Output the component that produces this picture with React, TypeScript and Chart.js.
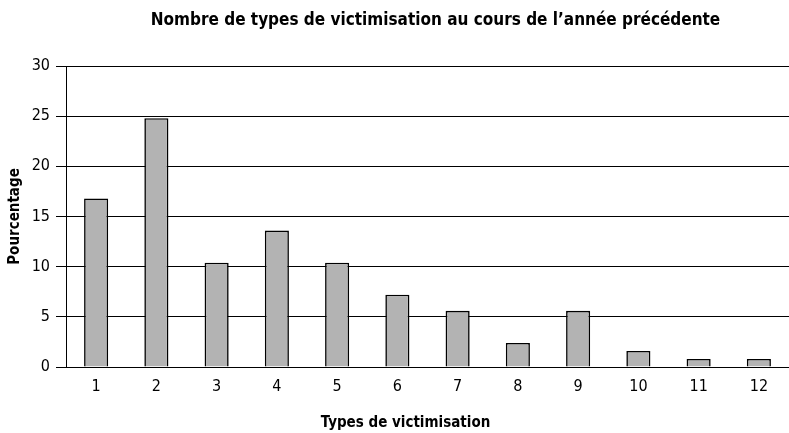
import React, { useEffect, useRef } from "react";
import { Chart, registerables } from "chart.js";

Chart.register(...registerables);

const categories = ["1", "2", "3", "4", "5", "6", "7", "8", "9", "10", "11", "12"];
const percentages = [16.8, 24.8, 10.4, 13.6, 10.4, 7.2, 5.6, 2.4, 5.6, 1.6, 0.8, 0.8];
const titleText = "Nombre de types de victimisation au cours de l\u2019année précédente";
const xTitle = "Types de victimisation";
const yTitle = "Pourcentage";

const FONT = "'DejaVu Sans Condensed', 'Liberation Sans Narrow', sans-serif";

const titlesPlugin = {
  id: "customTitles",
  afterDraw(chart: any) {
    const { ctx, chartArea } = chart;
    const cx = (chartArea.left + chartArea.right) / 2;
    ctx.save();
    ctx.fillStyle = "#000";
    ctx.textAlign = "center";
    ctx.textBaseline = "middle";
    ctx.font = `bold 17px ${FONT}`;
    ctx.fillText(titleText, cx + 8, chartArea.top - 45);
    ctx.font = `bold 15px ${FONT}`;
    ctx.fillText(xTitle, cx - 22, chartArea.bottom + 56);
    ctx.restore();
  },
};

export default function App() {
  const ref = useRef<HTMLCanvasElement | null>(null);
  useEffect(() => {
    if (!ref.current) return;
    const chart = new Chart(ref.current, {
      type: "bar",
      data: {
        labels: categories,
        datasets: [
          {
            data: percentages,
            backgroundColor: "#b3b3b3",
            borderColor: "#000000",
            borderWidth: 1.6,
            barPercentage: 0.4,
            categoryPercentage: 1,
          },
        ],
      },
      plugins: [titlesPlugin],
      options: {
        animation: false,
        responsive: false,
        devicePixelRatio: 1,
        layout: { padding: { top: 66, left: 0, right: 0, bottom: 0 } },
        plugins: {
          legend: { display: false },
          tooltip: { enabled: false },
          title: { display: false },
        },
        scales: {
          x: {
            grid: { display: false },
            border: { display: true, color: "#000" },
            ticks: { color: "#000", font: { family: FONT, size: 16 }, padding: 2 },
            afterFit: (s: any) => {
              s.height = 66;
            },
          },
          y: {
            min: 0,
            max: 30,
            ticks: { stepSize: 5, color: "#000", font: { family: FONT, size: 16 }, padding: 6 },
            grid: { color: "#000", lineWidth: 1, tickLength: 10 },
            border: { display: true, color: "#000", width: 1 },
            title: {
              display: true,
              text: yTitle,
              color: "#000",
              font: { family: FONT, size: 15, weight: "bold" },
              padding: { top: 6, bottom: 0 },
            },
            afterFit: (s: any) => {
              s.width = 66;
            },
          },
        },
      },
    });
    return () => chart.destroy();
  }, []);
  return (
    <div style={{ position: "absolute", left: 0, top: 0, width: 789, height: 433, background: "#fff" }}>
      <canvas ref={ref} width={789} height={433} style={{ display: "block" }} />
    </div>
  );
}
